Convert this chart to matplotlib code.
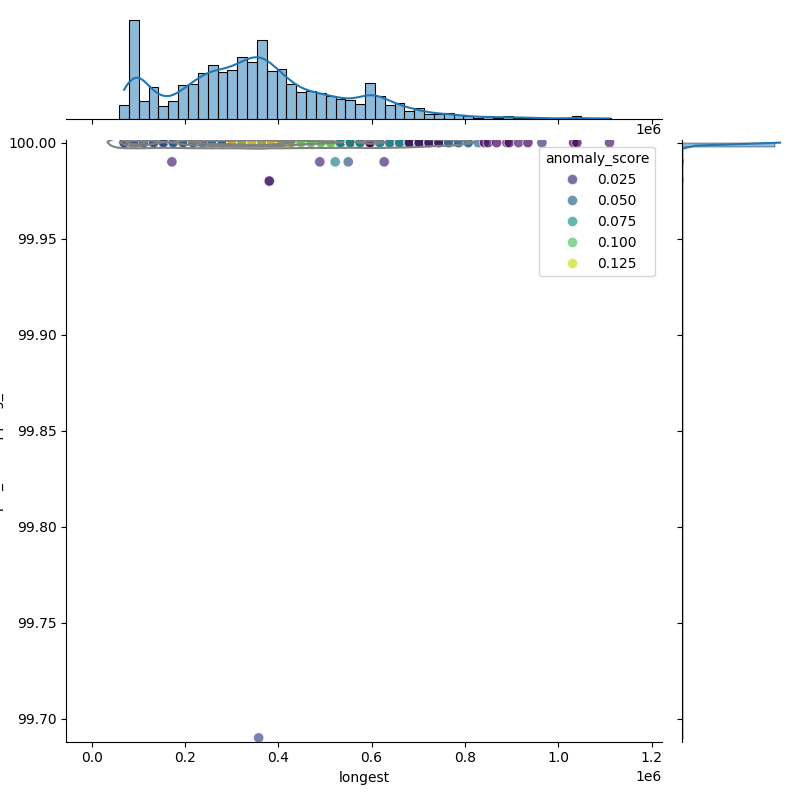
import numpy as np
import pandas as pd
import matplotlib
matplotlib.use('Agg')
import seaborn as sns
from matplotlib import pyplot as plt

# histogram of 'longest' (top margin), first 37 bins are the dense part
bin_lo, bin_hi, n_bins = 0.059e6, 1.113e6, 50
bin_counts = [12, 85, 15, 27, 11, 14, 29, 30, 39, 46, 40, 42, 53, 49, 67, 39,
              43, 30, 23, 24, 21, 19, 17, 15, 13, 31, 19, 12, 14, 7, 9, 4, 4,
              5, 3, 2, 1]
# two scores per bin, points alternate between them (strip colours)
score_a = [0.045, 0.05, 0.045, 0.05, 0.045, 0.06, 0.055, 0.06, 0.055, 0.06,
           0.06, 0.135, 0.12, 0.135, 0.12, 0.135, 0.12, 0.12, 0.11, 0.11,
           0.11, 0.11, 0.08, 0.08, 0.08, 0.005, 0.07, 0.07, 0.07, 0.005, 0.005,
           0.005, 0.005, 0.045, 0.045, 0.045, 0.045]
score_b = [0.005, 0.005, 0.005, 0.005, 0.005, 0.005, 0.005, 0.005, 0.005,
           0.005, 0.005, 0.005, 0.005, 0.005, 0.005, 0.005, 0.005, 0.005,
           0.08, 0.08, 0.08, 0.08, 0.005, 0.005, 0.005, 0.005, 0.04, 0.04,
           0.04, 0.065, 0.065, 0.065, 0.065, 0.07, 0.07, 0.07, 0.07]

# sparse points at the right end of the strip (y = 100)
tail_longest = [0.842e6, 0.850e6, 0.868e6, 0.890e6, 0.895e6, 0.915e6,
                0.935e6, 0.965e6, 1.033e6, 1.040e6, 1.110e6]
tail_score = [0.005, 0.01, 0.005, 0.01, 0.005, 0.015, 0.005, 0.025, 0.005,
              0.005, 0.015]

# points below 100
out_longest = [0.172e6, 0.380e6, 0.381e6, 0.489e6, 0.522e6, 0.550e6,
               0.627e6, 0.358e6]
out_pct = [99.99, 99.98, 99.98, 99.99, 99.99, 99.99, 99.99, 99.69]
out_score = [0.02, 0.02, 0.015, 0.02, 0.065, 0.04, 0.02, 0.035]

ylab = 'pct_overlapping_ref'

edges = np.linspace(bin_lo, bin_hi, n_bins + 1)
centers = (edges[:-1] + edges[1:]) / 2

xs, ys, hs = [], [], []
for i, c in enumerate(bin_counts):
    for j in range(c):
        xs.append(centers[i])
        ys.append(100.0)
        hs.append(score_a[i] if (c - j) % 2 else score_b[i])
xs += tail_longest
ys += [100.0] * len(tail_longest)
hs += tail_score
xs += out_longest
ys += out_pct
hs += out_score

df = pd.DataFrame({'longest': xs, ylab: ys, 'anomaly_score': hs})

g = sns.JointGrid(data=df, x='longest', y=ylab, height=8)
sns.kdeplot(data=df, x='longest', y=ylab, ax=g.ax_joint, color='gray',
            levels=4, bw_adjust=0.35)
sns.scatterplot(data=df, x='longest', y=ylab, hue='anomaly_score',
                palette='viridis', alpha=0.7, s=55, ax=g.ax_joint)
sns.histplot(data=df, x='longest', bins=edges, kde=True,
             kde_kws={'bw_adjust': 0.6}, ax=g.ax_marg_x)
sns.histplot(data=df, y=ylab, bins=150, kde=True,
             kde_kws={'bw_adjust': 0.3}, ax=g.ax_marg_y)

g.ax_joint.set_xlim(-0.054e6, 1.222e6)
g.ax_joint.set_ylim(99.688, 100.0016)

g.figure.savefig('out.png', dpi=100)
